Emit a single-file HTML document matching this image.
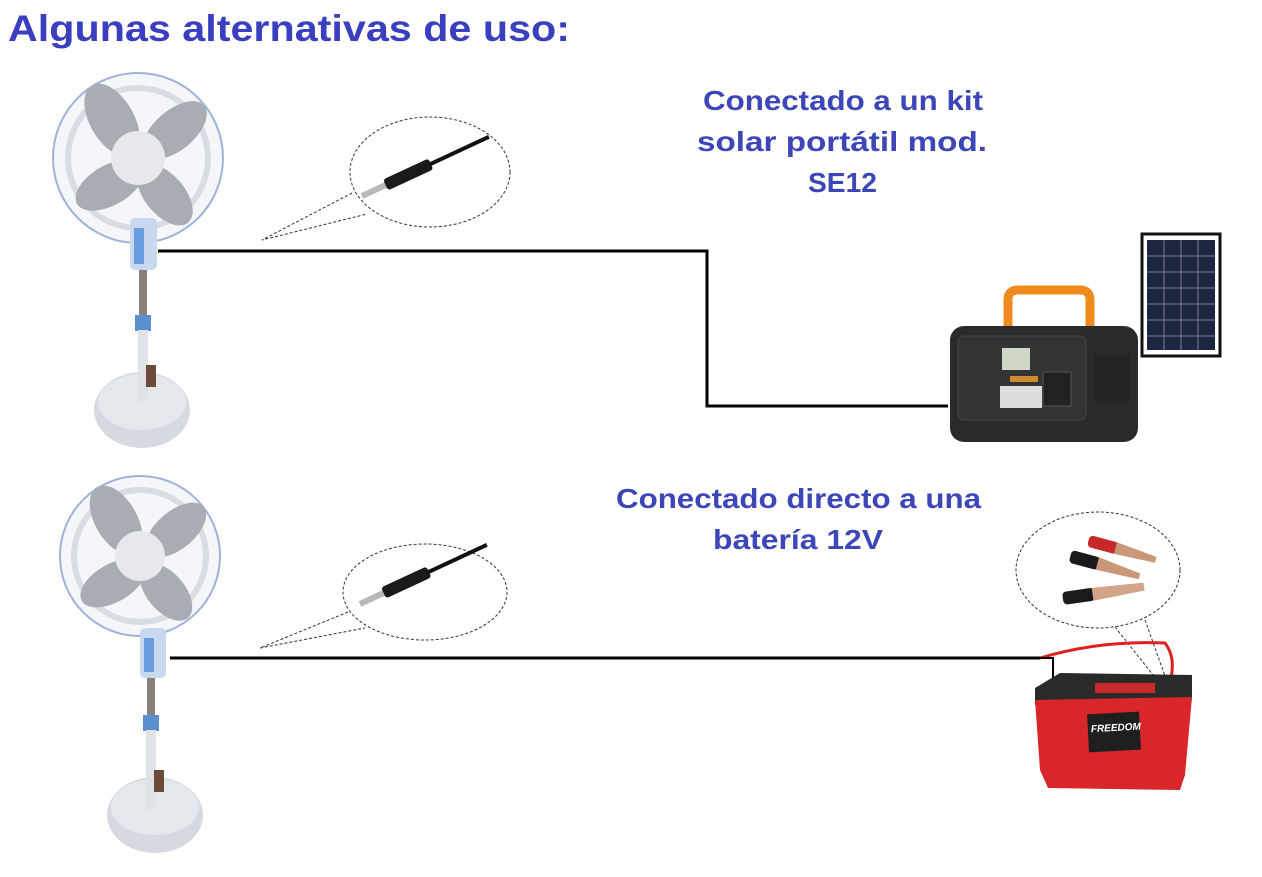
<!DOCTYPE html>
<html><head><meta charset="utf-8"><style>
html,body{margin:0;padding:0;background:#fff;}
svg{display:block;}
text{font-family:"Liberation Sans",sans-serif;font-weight:bold;}
</style></head><body>
<svg width="1262" height="877" viewBox="0 0 1262 877" xmlns="http://www.w3.org/2000/svg">
<text x="8" y="41" font-size="37" fill="#3a3fc0" textLength="562" lengthAdjust="spacingAndGlyphs">Algunas alternativas de uso:</text>

<!-- FAN 1 -->
<ellipse cx="142" cy="410" rx="48" ry="38" fill="#d6dae0"/>
<ellipse cx="142" cy="402" rx="44" ry="28" fill="#e4e7ec"/>
<rect x="139" y="270" width="8" height="50" fill="#8a7f7a"/>
<rect x="135" y="315" width="16" height="16" fill="#5a8fd0"/>
<rect x="138" y="330" width="10" height="72" fill="#dfe3e8"/>
<rect x="146" y="365" width="10" height="22" fill="#6b4a3a"/>
<circle cx="138" cy="158" r="85" fill="#f4f6f9" stroke="#9fb3d8" stroke-width="2"/>
<circle cx="138" cy="158" r="70" fill="none" stroke="#d8dde5" stroke-width="6"/>
<g fill="#a9adb3">
<ellipse cx="112" cy="120" rx="22" ry="40" transform="rotate(-30 112 120)"/>
<ellipse cx="175" cy="130" rx="20" ry="38" transform="rotate(50 175 130)"/>
<ellipse cx="110" cy="185" rx="20" ry="38" transform="rotate(60 110 185)"/>
<ellipse cx="165" cy="195" rx="20" ry="36" transform="rotate(-40 165 195)"/>
</g>
<circle cx="138" cy="158" r="27" fill="#e6e8ec"/>
<rect x="130" y="218" width="27" height="52" rx="5" fill="#c8d8ef"/>
<rect x="134" y="228" width="10" height="36" fill="#6a9ae0"/>

<!-- FAN 2 -->
<ellipse cx="155" cy="815" rx="48" ry="38" fill="#d6dae0"/>
<ellipse cx="155" cy="807" rx="44" ry="28" fill="#e4e7ec"/>
<rect x="147" y="678" width="8" height="40" fill="#8a7f7a"/>
<rect x="143" y="715" width="16" height="16" fill="#5a8fd0"/>
<rect x="146" y="730" width="10" height="80" fill="#dfe3e8"/>
<rect x="154" y="770" width="10" height="22" fill="#6b4a3a"/>
<circle cx="140" cy="556" r="80" fill="#f4f6f9" stroke="#9fb3d8" stroke-width="2"/>
<circle cx="140" cy="556" r="66" fill="none" stroke="#d8dde5" stroke-width="6"/>
<g fill="#a9adb3">
<ellipse cx="116" cy="520" rx="21" ry="38" transform="rotate(-30 116 520)"/>
<ellipse cx="176" cy="530" rx="19" ry="36" transform="rotate(50 176 530)"/>
<ellipse cx="113" cy="583" rx="19" ry="36" transform="rotate(60 113 583)"/>
<ellipse cx="166" cy="592" rx="19" ry="34" transform="rotate(-40 166 592)"/>
</g>
<circle cx="140" cy="556" r="25" fill="#e6e8ec"/>
<rect x="140" y="628" width="26" height="50" rx="5" fill="#c8d8ef"/>
<rect x="144" y="638" width="10" height="34" fill="#6a9ae0"/>

<!-- lines -->
<polyline points="158,251 707,251 707,406 948,406" fill="none" stroke="#000" stroke-width="3"/>
<line x1="170" y1="658" x2="1040" y2="658" stroke="#000" stroke-width="3"/>

<!-- callouts -->
<ellipse cx="430" cy="172" rx="80" ry="55" fill="#fff" stroke="#333" stroke-dasharray="3,2"/>
<path d="M352,193 L262,240 L367,214" fill="none" stroke="#333" stroke-dasharray="3,2"/>
<g transform="translate(362,196) rotate(-25)">
<rect x="0" y="-3" width="28" height="6" fill="#b8b8b8"/>
<rect x="26" y="-6" width="50" height="12" rx="3" fill="#1a1a1a"/>
<line x1="74" y1="0" x2="140" y2="0" stroke="#111" stroke-width="4"/>
</g>
<ellipse cx="425" cy="592" rx="82" ry="48" fill="#fff" stroke="#333" stroke-dasharray="3,2"/>
<path d="M348,612 L260,648 L365,628" fill="none" stroke="#333" stroke-dasharray="3,2"/>
<g transform="translate(360,604) rotate(-25)">
<rect x="0" y="-3" width="28" height="6" fill="#b8b8b8"/>
<rect x="26" y="-6" width="50" height="12" rx="3" fill="#1a1a1a"/>
<line x1="74" y1="0" x2="140" y2="0" stroke="#111" stroke-width="4"/>
</g>

<!-- power station -->
<path d="M1008,330 L1008,300 Q1008,290 1018,290 L1080,290 Q1090,290 1090,300 L1090,330" fill="none" stroke="#f08a1c" stroke-width="9"/>
<rect x="950" y="326" width="188" height="116" rx="14" fill="#2a2a2a"/>
<rect x="958" y="336" width="128" height="84" rx="6" fill="#333" stroke="#444"/>
<rect x="1002" y="348" width="28" height="22" fill="#cfd8c8"/>
<rect x="1010" y="376" width="28" height="6" fill="#d08a30"/>
<rect x="1000" y="386" width="42" height="22" fill="#ddd"/>
<rect x="1043" y="372" width="28" height="34" fill="#222" stroke="#555"/>
<rect x="1094" y="355" width="36" height="46" fill="#242424"/>
<rect x="1142" y="234" width="78" height="122" fill="#fff" stroke="#111" stroke-width="3"/>
<rect x="1147" y="240" width="68" height="110" fill="#1e2540"/>
<g stroke="#7a8098" stroke-width="1">
<line x1="1164" y1="240" x2="1164" y2="350"/><line x1="1181" y1="240" x2="1181" y2="350"/><line x1="1198" y1="240" x2="1198" y2="350"/>
<line x1="1147" y1="256" x2="1215" y2="256"/><line x1="1147" y1="272" x2="1215" y2="272"/><line x1="1147" y1="288" x2="1215" y2="288"/><line x1="1147" y1="304" x2="1215" y2="304"/><line x1="1147" y1="320" x2="1215" y2="320"/><line x1="1147" y1="336" x2="1215" y2="336"/>
</g>

<!-- battery callout -->
<ellipse cx="1098" cy="570" rx="82" ry="58" fill="#fff" stroke="#333" stroke-dasharray="3,2"/>
<line x1="1115" y1="627" x2="1165" y2="690" stroke="#333" stroke-dasharray="3,2"/>
<line x1="1145" y1="620" x2="1170" y2="690" stroke="#333" stroke-dasharray="3,2"/>
<g transform="translate(1090,535) rotate(15)"><rect x="0" y="0" width="30" height="12" rx="4" fill="#c8282a"/><path d="M28,0 L70,4 L70,10 L28,12Z" fill="#c99878"/></g>
<g transform="translate(1072,550) rotate(15)"><rect x="0" y="0" width="30" height="13" rx="4" fill="#1a1a1a"/><path d="M28,0 L72,5 L72,11 L28,13Z" fill="#c99878"/></g>
<g transform="translate(1062,592) rotate(-8)"><rect x="0" y="0" width="32" height="13" rx="4" fill="#1a1a1a"/><path d="M30,0 L82,2 L82,10 L30,13Z" fill="#d2a48a"/></g>
<!-- battery -->
<path d="M1040,658 Q1100,640 1165,643 Q1178,660 1168,688" fill="none" stroke="#e02020" stroke-width="3"/>
<path d="M1040,658 L1053,658 L1053,683" fill="none" stroke="#000" stroke-width="2"/>
<path d="M1035,688 L1060,673 L1192,675 L1192,700 L1035,705Z" fill="#2a2a2a"/>
<path d="M1035,700 L1192,697 L1185,775 L1180,790 L1048,788 L1040,770Z" fill="#d8262a"/>
<rect x="1088" y="713" width="52" height="38" fill="#1f1f1f" transform="rotate(-3 1114 732)"/>
<text x="1091" y="731" font-size="10" fill="#fff" font-style="italic" transform="rotate(-3 1114 732)">FREEDOM</text>
<rect x="1095" y="683" width="60" height="10" fill="#c8282a"/>

<!-- labels -->
<g font-size="28" fill="#3d46b8" lengthAdjust="spacingAndGlyphs">
<text x="703" y="110" textLength="280" lengthAdjust="spacingAndGlyphs">Conectado a un kit</text>
<text x="697" y="151" textLength="290" lengthAdjust="spacingAndGlyphs">solar portátil  mod.</text>
<text x="808" y="192" textLength="69" lengthAdjust="spacingAndGlyphs">SE12</text>
<text x="616" y="508" textLength="365" lengthAdjust="spacingAndGlyphs">Conectado directo a una</text>
<text x="713" y="549" textLength="170" lengthAdjust="spacingAndGlyphs">batería 12V</text>
</g>
</svg>
</body></html>
